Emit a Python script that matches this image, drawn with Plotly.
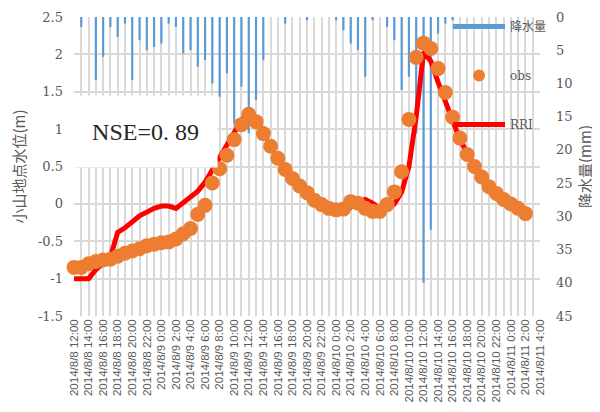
import plotly.graph_objects as go
import pandas as pd

# ---- categories (hourly) ----
times = pd.date_range("2014-08-08 12:00", "2014-08-11 04:00", freq="h")
categories = [f"{t.year}/{t.month}/{t.day} {t.hour}:00" for t in times]
tick_labels = [c if i % 2 == 0 else "" for i, c in enumerate(categories)]
idx = list(range(len(categories)))

# ---- rainfall (mm), right axis ----
rain = [0, 1.5, 0, 9.5, 6.0, 1.5, 3.0, 1.0, 9.5, 3.5,
        5.0, 4.5, 4.0, 1.0, 1.5, 5.5, 5.0, 7.5, 6.5, 10.0,
        12.0, 8.5, 16.0, 10.5, 17.5, 12.5, 6.5, 0, 0, 1.0,
        0, 0, 0.5, 0, 0, 0, 0.5, 2.0, 4.0, 5.0,
        9.0, 0.5, 0, 1.5, 3.5, 11.0, 9.0, 17.5, 40.0, 32.0,
        2.5, 1.0, 0.5, 0, 0, 0, 0, 0, 0, 0,
        0, 0, 0, 0, 0]

# ---- observed water level (m) ----
obs = [-0.85, -0.85, -0.80, -0.77, -0.75, -0.74, -0.70, -0.66, -0.63, -0.60,
       -0.56, -0.54, -0.52, -0.51, -0.47, -0.40, -0.33, -0.14, -0.02, 0.28,
       0.47, 0.65, 0.86, 1.06, 1.20, 1.10, 0.94, 0.77, 0.61, 0.46,
       0.34, 0.24, 0.15, 0.05, -0.01, -0.06, -0.08, -0.07, 0.03, 0.01,
       -0.06, -0.10, -0.10, -0.01, 0.16, 0.43, 1.13, 1.96, 2.15, 2.08,
       1.81, 1.49, 1.16, 0.88, 0.66, 0.50, 0.36, 0.23, 0.14, 0.06,
       0.00, -0.06, -0.13, None, None]

# ---- RRI simulated water level (m) ----
rri = [-1.00, -1.00, -1.00, -0.88, -0.80, -0.71, -0.38, -0.32, -0.24, -0.16,
       -0.11, -0.06, -0.03, -0.03, -0.06, 0.01, 0.08, 0.17, 0.29, 0.45,
       0.63, 0.79, 0.95, 1.12, 1.23, 1.15, 0.95, 0.77, 0.60, 0.46,
       0.33, 0.22, 0.12, 0.03, -0.04, -0.09, -0.13, -0.12, -0.04, 0.03,
       0.06, 0.01, -0.06, -0.06, 0.00, 0.16, 0.50, 1.17, 2.03, 1.91,
       1.63, 1.37, 1.10, 0.86, 0.68, 0.50, 0.36, 0.23, 0.14, 0.06,
       0.00, -0.06, -0.12, None, None]

level_ticks = [2.5, 2, 1.5, 1, 0.5, 0, -0.5, -1, -1.5]
level_tick_labels = ["2.5", "2", "1.5", "1", "0.5", "0", "-0.5", "-1", "-1.5"]
rain_ticks = [0, 5, 10, 15, 20, 25, 30, 35, 40, 45]

GREY = "#595959"
GRID = "#D9D9D9"
SERIF = "DejaVu Serif, Noto Sans CJK JP"
CJK = "Noto Sans CJK JP"

fig = go.Figure()
fig.add_trace(go.Bar(x=idx, y=rain, yaxis="y", marker=dict(color="#5B9BD5", line=dict(width=0)),
                     width=0.3, name="降水量", showlegend=False, legendgroup="rain"))
fig.add_trace(go.Scatter(x=[None], y=[None], mode="lines", yaxis="y2",
                         line=dict(color="#5B9BD5", width=7), name="降水量",
                         legendgroup="rain", legendrank=1))
fig.add_trace(go.Scatter(x=idx, y=rri, mode="lines", yaxis="y2",
                         line=dict(color="#FF0000", width=5), name="RRI",
                         legendgroup="rri", legendrank=3, cliponaxis=False))
fig.add_trace(go.Scatter(x=idx, y=obs, mode="markers", yaxis="y2",
                         marker=dict(color="#ED7D31", size=15), name="obs",
                         legendgroup="obs", legendrank=2, cliponaxis=False))

# page body has an 8px margin, so the figure is 592x404 placed at (8, 8)
fig.update_layout(
    width=592, height=404,
    margin=dict(l=66, r=60, t=9, b=96, autoexpand=False),
    paper_bgcolor="white", plot_bgcolor="white",
    showlegend=True,
    xaxis=dict(range=[0, 64], tickmode="array", tickvals=idx, ticktext=tick_labels,
               tickangle=-90, showgrid=True, gridcolor=GRID, gridwidth=1.5,
               zeroline=False, showline=False, ticks="", automargin=False,
               tickfont=dict(family="Liberation Sans", size=11.5, color=GREY)),
    yaxis=dict(range=[45, 0], tickmode="array", tickvals=rain_ticks, side="right",
               showgrid=False, zeroline=False, showline=False, ticks="",
               ticklabelstandoff=15, automargin=False,
               tickfont=dict(family=SERIF, size=13, color=GREY),
               title=dict(text="降水量(mm)", font=dict(family=CJK, size=15, color=GREY), standoff=8)),
    yaxis2=dict(range=[-1.5, 2.5], tickmode="array", tickvals=level_ticks, ticktext=level_tick_labels,
                side="left", overlaying="y", showgrid=True, gridcolor=GRID, gridwidth=1.5,
                zeroline=False, showline=False, ticks="", ticklabelstandoff=10, automargin=False,
                tickfont=dict(family=SERIF, size=13, color=GREY),
                title=dict(text="小山地点水位(m)", font=dict(family=CJK, size=15, color=GREY), standoff=10)),
    legend=dict(x=0.8026, y=1.017, xanchor="left", yanchor="top", bgcolor="rgba(0,0,0,0)",
                font=dict(family=SERIF, size=12, color=GREY), tracegroupgap=30,
                itemsizing="constant", itemwidth=52, traceorder="grouped"),
    annotations=[dict(text="NSE=0. 89", xref="paper", yref="paper",
                      x=(145.5 - 74) / 466, y=1 - (131.5 - 17) / 299,
                      xanchor="center", yanchor="middle", showarrow=False,
                      width=143, height=71, borderpad=0, bgcolor="white",
                      font=dict(family="Liberation Serif", size=24, color="#262626"))],
)

fig.write_html("out.html")
